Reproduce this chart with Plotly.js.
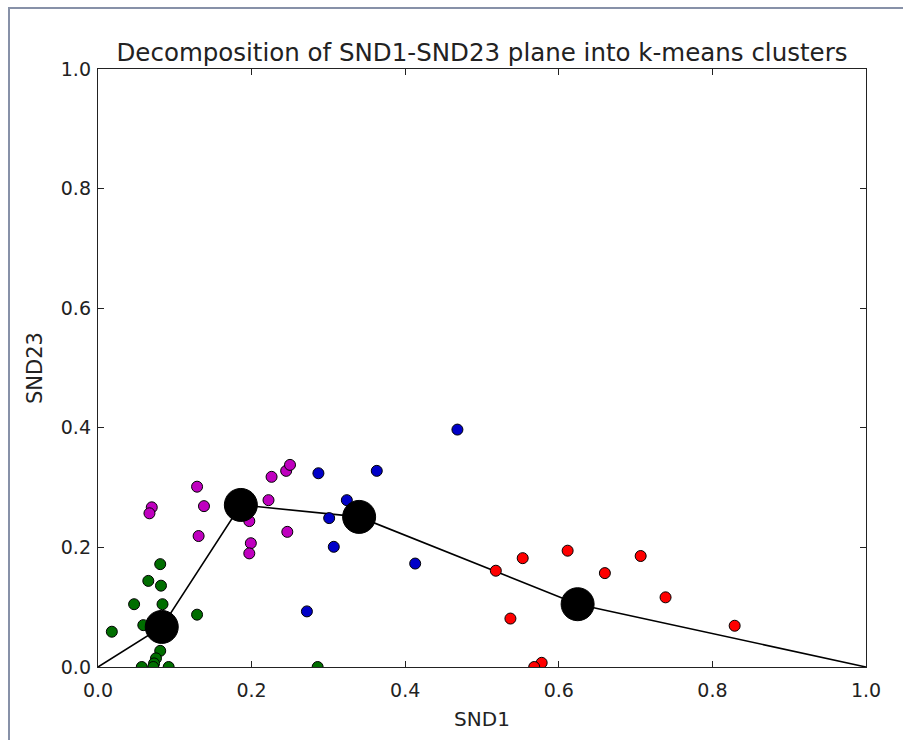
<!DOCTYPE html>
<html>
<head>
<meta charset="utf-8">
<script src="https://cdn.plot.ly/plotly-3.0.1.min.js"></script>
<style>
  body { margin: 0; background: #fff; }
  #chart { width: 903px; height: 740px; }
  #frame { position: absolute; left: 8px; top: 7px; width: 920px; height: 760px;
           border-left: 2px solid #8791a8; border-top: 2px solid #8791a8; pointer-events: none; }
</style>
</head>
<body>
<div id="chart"></div>
<div id="frame"></div>
<script>
// Cluster members (SND1, SND23)
const greenX = [0.081, 0.0655, 0.082, 0.047, 0.084, 0.129, 0.018, 0.059, 0.081, 0.0755, 0.073, 0.057, 0.092, 0.072, 0.286];
const greenY = [0.172, 0.144, 0.136, 0.105, 0.105, 0.0875, 0.059, 0.070, 0.027, 0.0145, 0.006, 0.0, 0.0, 0.0, 0.0];

const magentaX = [0.129, 0.070, 0.067, 0.138, 0.131, 0.197, 0.199, 0.197, 0.226, 0.245, 0.250, 0.222, 0.2465];
const magentaY = [0.3015, 0.267, 0.257, 0.269, 0.219, 0.244, 0.207, 0.190, 0.318, 0.328, 0.338, 0.279, 0.226];

const blueX = [0.287, 0.363, 0.324, 0.301, 0.307, 0.413, 0.272, 0.468];
const blueY = [0.324, 0.328, 0.279, 0.249, 0.201, 0.173, 0.093, 0.397];

const redX = [0.518, 0.553, 0.6115, 0.660, 0.7066, 0.739, 0.829, 0.537, 0.5777, 0.568];
const redY = [0.161, 0.182, 0.1945, 0.157, 0.1856, 0.1165, 0.069, 0.081, 0.007, 0.0];

// k-means centroids
const centroidX = [0.083, 0.186, 0.340, 0.6245];
const centroidY = [0.067, 0.271, 0.251, 0.105];

// Path through the centroids from (0,0) to (1,0)
const pathX = [0, 0.083, 0.186, 0.340, 0.6245, 1.0];
const pathY = [0, 0.067, 0.271, 0.251, 0.105, 0];

const tickVals = [0, 0.2, 0.4, 0.6, 0.8, 1.0];
const tickText = ['0.0', '0.2', '0.4', '0.6', '0.8', '1.0'];

function pts(x, y, color) {
  return { x: x, y: y, type: 'scatter', mode: 'markers', hoverinfo: 'skip',
    marker: { color: color, size: 11, line: { color: '#000', width: 1 } } };
}

const data = [
  { x: pathX, y: pathY, type: 'scatter', mode: 'lines', line: { color: '#000', width: 1.6 }, hoverinfo: 'skip' },
  pts(greenX, greenY, '#006e00'),
  pts(magentaX, magentaY, '#bf00bf'),
  pts(blueX, blueY, '#0000c8'),
  pts(redX, redY, '#ff0000'),
  { x: centroidX, y: centroidY, type: 'scatter', mode: 'markers', hoverinfo: 'skip',
    marker: { color: '#000', size: 33, line: { color: '#000', width: 1 } } }
];

const axisBase = {
  range: [0, 1], tickvals: tickVals, ticktext: tickText,
  showgrid: false, zeroline: false, showline: true, mirror: 'ticks',
  linecolor: '#222', linewidth: 1.2, ticks: 'inside', ticklen: 6, tickcolor: '#222',
  tickfont: { family: 'DejaVu Sans', size: 19, color: '#222' }, automargin: false
};

const layout = {
  width: 903, height: 740,
  margin: { l: 98, r: 37, t: 69, b: 73 },
  paper_bgcolor: '#fff', plot_bgcolor: '#fff',
  showlegend: false,
  font: { family: 'DejaVu Sans', color: '#222' },
  title: { text: 'Decomposition of SND1-SND23 plane into k-means clusters',
    font: { family: 'DejaVu Sans', size: 24.5, color: '#222' },
    x: 0.5, xref: 'paper', y: 1 - 52 / 740, yref: 'container', yanchor: 'middle' },
  xaxis: Object.assign({}, axisBase, { ticklabelstandoff: 6,
    title: { text: 'SND1', font: { family: 'DejaVu Sans', size: 20, color: '#222' }, standoff: 12 } }),
  yaxis: Object.assign({}, axisBase, { ticklabelstandoff: 2,
    title: { text: 'SND23', font: { family: 'DejaVu Sans', size: 21, color: '#222' }, standoff: 12 } })
};

Plotly.newPlot('chart', data, layout, { staticPlot: true });
</script>
</body>
</html>
